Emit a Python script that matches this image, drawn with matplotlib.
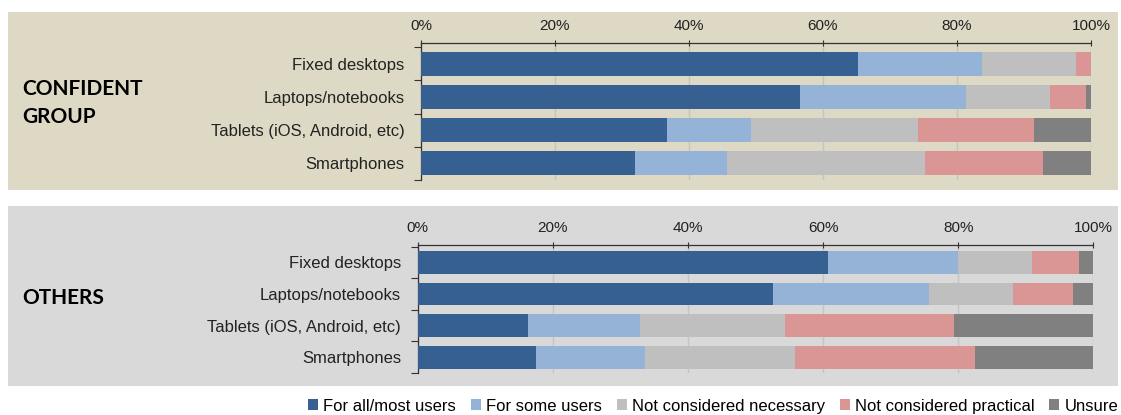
import matplotlib.pyplot as plt
from matplotlib.patches import Rectangle
import numpy as np

plt.rcParams["font.family"] = ["Liberation Sans", "DejaVu Sans"]

categories = ["Fixed desktops", "Laptops/notebooks", "Tablets (iOS, Android, etc)", "Smartphones"]
series_names = ["For all/most users", "For some users", "Not considered necessary",
                "Not considered practical", "Unsure"]
colors = ["#376092", "#95b3d7", "#bfbfbf", "#d99694", "#808080"]

# percentages per device, one list per response
confident_all = [65.2, 56.6, 36.7, 32.0]
confident_some = [18.6, 24.8, 12.6, 13.7]
confident_unneeded = [13.9, 12.5, 24.9, 29.5]
confident_impractical = [2.3, 5.4, 17.3, 17.6]
confident_unsure = [0.0, 0.7, 8.5, 7.2]

others_all = [60.7, 52.6, 16.3, 17.5]
others_some = [19.3, 23.1, 16.6, 16.1]
others_unneeded = [11.0, 12.4, 21.5, 22.3]
others_impractical = [6.9, 8.9, 25.0, 26.6]
others_unsure = [2.1, 3.0, 20.6, 17.5]

W, H = 1121, 415
fig = plt.figure(figsize=(W / 100, H / 100), dpi=100)
fig.patch.set_facecolor("white")

def px_box(x0, y0, x1, y1):
    return [x0 / W, 1 - y1 / H, (x1 - x0) / W, (y1 - y0) / H]

def panel(bg, box, axbox, ytop, label, data):
    x0, y0, x1, y1 = box
    fig.patches.append(Rectangle((x0 / W, 1 - y1 / H), (x1 - x0) / W, (y1 - y0) / H,
                                 transform=fig.transFigure, facecolor=bg, edgecolor="none", zorder=-5))
    ax = fig.add_axes(px_box(*axbox))
    ax.set_facecolor("none")
    y = np.arange(len(categories))
    left = np.zeros(len(categories))
    for vals, c, name in zip(data, colors, series_names):
        ax.barh(y, vals, left=left, height=0.72, color=c, label=name, zorder=3)
        left += np.array(vals)
    ax.set_xlim(0, 100)
    ax.set_ylim(3.5, ytop)
    ax.xaxis.tick_top()
    ax.set_xticks(np.arange(0, 101, 20))
    ax.set_xticklabels([f"{v}%" for v in range(0, 101, 20)], fontsize=11, color="#222222")
    ax.tick_params(axis="x", direction="inout", length=5, width=0.8, pad=5, color="#333333")
    ax.set_yticks(y)
    ax.set_yticklabels(categories, fontsize=12, color="#222222")
    ax.tick_params(axis="y", which="major", length=0, pad=12)
    ax.set_yticks(np.arange(-0.5, 3.6, 1.0), minor=True)
    ax.tick_params(axis="y", which="minor", length=5, width=0.8, color="#333333")
    ax.grid(axis="x", color="#c4c4c4", lw=1.0, zorder=1)
    for s in ["right", "bottom"]:
        ax.spines[s].set_visible(False)
    for s in ["top", "left"]:
        ax.spines[s].set_color("#333333")
        ax.spines[s].set_linewidth(0.9)
    fig.text(22 / W, 1 - label[1] / H, label[0], fontsize=15, fontweight="bold",
             family=["Lato", "DejaVu Sans"], va="center", ha="left", linespacing=1.45)
    return ax

panel("#ddd9c4", (8, 12, 1118, 190), (421, 43, 1091, 180), -0.63,
      ("CONFIDENT\nGROUP", 103),
      [confident_all, confident_some, confident_unneeded, confident_impractical, confident_unsure])
ax2 = panel("#d9d9d9", (8, 206, 1118, 386), (417.7, 245, 1093.3, 373), -0.55,
            ("OTHERS", 298),
            [others_all, others_some, others_unneeded, others_impractical, others_unsure])

handles, labels = ax2.get_legend_handles_labels()
fig.legend(handles, labels, loc="center right", bbox_to_anchor=(1133 / W, 1 - 406 / H),
           ncol=5, frameon=False, handlelength=0.6, handleheight=0.6, handletextpad=0.3,
           columnspacing=0.9, prop={"size": 12})

fig.savefig("out.png", dpi=100)
